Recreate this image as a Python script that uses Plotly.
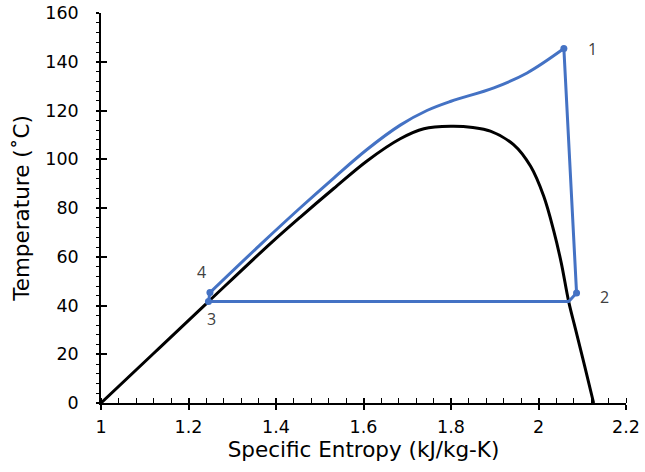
import plotly.graph_objects as go

# Saturation dome (entropy kJ/kg-K, temperature °C)
dome_s = [1.0, 1.12, 1.2456, 1.387, 1.455, 1.532, 1.608, 1.684, 1.738, 1.8, 1.85, 1.890,
          1.943, 1.982, 2.012, 2.035, 2.052, 2.069, 2.085, 2.105, 2.126]
dome_t = [0.0, 20.3, 41.6, 65.4, 76.2, 88.0, 99.3, 108.4, 112.5, 113.5, 113.0, 111.5,
          106.0, 97.1, 84.8, 70.5, 57.5, 41.6, 30.0, 15.5, 0.0]

# Heat addition path from state 4 to state 1
heat_s = [1.249, 1.368, 1.455, 1.532, 1.608, 1.684, 1.745, 1.8, 1.898, 1.974, 2.058]
heat_t = [45.3, 65.6, 80.0, 92.3, 104.0, 114.0, 120.0, 123.8, 129.3, 135.4, 145.4]

# Expansion, heat rejection and pumping: 1 -> 2 -> saturated vapour -> 3 -> 4
cycle_s = [2.058, 2.087, 2.069, 1.2456, 1.249]
cycle_t = [145.4, 45.1, 41.6, 41.6, 45.3]

# Numbered state points
state_labels = ["1", "2", "3", "4"]
state_s = [2.058, 2.087, 1.2456, 1.249]
state_t = [145.4, 45.1, 41.6, 45.3]
label_shift = [(29, 0), (28, -4), (3, -17), (-8, 21)]

X_RANGE = [1.0, 2.2]
Y_RANGE = [0, 160]

BLUE = "#4472C4"
FONT = "DejaVu Sans, Verdana, sans-serif"
TICK_FONT = dict(family=FONT, size=17.5, color="#000000")
TITLE_FONT = dict(family=FONT, size=21.5, color="#000000")

fig = go.Figure()

fig.add_trace(go.Scatter(x=dome_s, y=dome_t, mode="lines",
                         line=dict(color="black", width=3, shape="spline", smoothing=1.0),
                         hoverinfo="skip", showlegend=False))
fig.add_trace(go.Scatter(x=heat_s, y=heat_t, mode="lines",
                         line=dict(color=BLUE, width=3, shape="spline", smoothing=1.0),
                         hoverinfo="skip", showlegend=False))
fig.add_trace(go.Scatter(x=cycle_s, y=cycle_t, mode="lines",
                         line=dict(color=BLUE, width=3),
                         hoverinfo="skip", showlegend=False))
fig.add_trace(go.Scatter(x=state_s, y=state_t, mode="markers",
                         marker=dict(color=BLUE, size=7),
                         hoverinfo="skip", showlegend=False))
# companion axes carrying the inward half of the major ticks
fig.add_trace(go.Scatter(x=[], y=[], xaxis="x2", yaxis="y2", showlegend=False))

for lab, s, t, (dx, dy) in zip(state_labels, state_s, state_t, label_shift):
    fig.add_annotation(x=s, y=t, text=lab, showarrow=False, xshift=dx, yshift=dy,
                       font=dict(family="Open Sans, Noto Sans, sans-serif", size=16, color="#404040"))

fig.update_layout(
    width=645, height=472,
    margin=dict(l=101, r=19, t=13, b=69),
    paper_bgcolor="white", plot_bgcolor="white",
    xaxis=dict(range=X_RANGE, dtick=0.2, tick0=1.0, showgrid=False, zeroline=False, automargin=False,
               showline=True, linecolor="black", linewidth=1.5,
               ticks="outside", ticklen=5, tickwidth=1.5, tickcolor="black",
               minor=dict(dtick=0.04, ticks="inside", ticklen=5, tickwidth=1.2, tickcolor="black", showgrid=False),
               tickfont=TICK_FONT, ticklabelstandoff=2,
               title=dict(text="Specific Entropy (kJ/kg-K)", font=TITLE_FONT, standoff=4)),
    yaxis=dict(range=Y_RANGE, dtick=20, showgrid=False, zeroline=False, automargin=False,
               showline=True, linecolor="black", linewidth=1.5,
               ticks="outside", ticklen=3, tickwidth=1.5, tickcolor="black",
               minor=dict(dtick=4, ticks="outside", ticklen=3, tickwidth=1.2, tickcolor="black", showgrid=False),
               tickfont=TICK_FONT, ticklabelstandoff=14,
               title=dict(text="Temperature (˚C)", font=TITLE_FONT, standoff=10)),
    xaxis2=dict(range=X_RANGE, dtick=0.2, tick0=1.0, overlaying="x", anchor="y", showgrid=False, zeroline=False,
                automargin=False, showline=False, ticks="inside", ticklen=5, tickwidth=1.5, tickcolor="black",
                showticklabels=False),
    yaxis2=dict(range=Y_RANGE, dtick=20, overlaying="y", anchor="x", showgrid=False, zeroline=False,
                automargin=False, showline=False, ticks="inside", ticklen=6, tickwidth=1.5, tickcolor="black",
                showticklabels=False),
)

fig.write_html("out.html")
